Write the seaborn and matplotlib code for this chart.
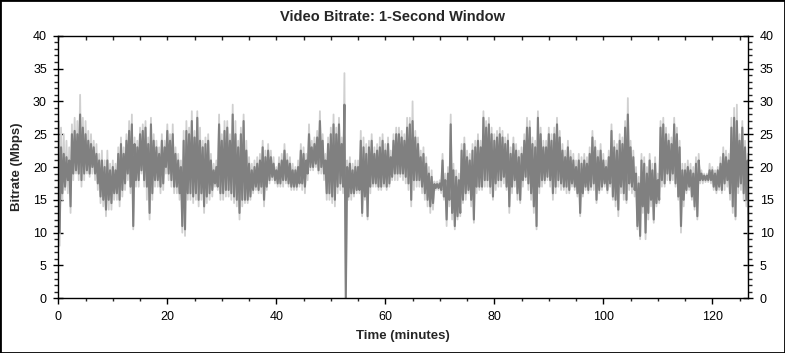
import numpy as np
import pandas as pd
import matplotlib
matplotlib.use("Agg")
import matplotlib.pyplot as plt
import seaborn as sns
from matplotlib.ticker import MultipleLocator
from matplotlib.patches import Rectangle

# ---------------- data (one sample every 0.5 min) ----------------
STEP_MIN = 0.5

# light-grey extremes (1-second spikes)
peak = [
    28.5, 26, 25, 24, 23, 26.5, 27.5, 27, 31, 27.5,
    27, 25.5, 25, 24, 23.5, 22, 22.5, 21, 22.5, 20.5,
    21, 20.5, 23, 24.5, 23, 25, 27, 28, 24.5, 24,
    26, 26.5, 27, 24.5, 27.5, 25, 24, 23, 25, 24,
    26.5, 25, 26.5, 23, 22, 21, 25.5, 27, 26, 28.5,
    25.5, 28.5, 26, 24, 24.5, 25, 22, 20.5, 21, 28,
    25, 27, 27, 25, 29.5, 27, 24, 26, 28, 24,
    21.5, 20.5, 21, 21.5, 22, 24, 22.5, 23.5, 22.5, 21.5,
    20, 21.5, 22, 23.5, 22, 21.5, 20.5, 20, 21, 23.5,
    23, 22, 26.5, 24, 24.5, 25.5, 28.5, 25, 22, 24.5,
    26, 28, 26, 27.5, 24.5, 34.3, 21, 21.5, 20.5, 21,
    21, 25.5, 24.5, 23.5, 24, 25, 23, 23.5, 24.5, 25,
    23.5, 24.5, 22.5, 25, 26, 26, 25.5, 25, 27.5, 27.5,
    30, 25.5, 24.5, 22.5, 23, 21.5, 20, 19.5, 17.8, 17.8,
    18, 22, 19, 20, 28, 20.5, 19.5, 19, 23.5, 24.5,
    22.5, 22, 23.5, 24, 25, 24, 28.5, 27, 27.5, 26,
    25, 25.5, 26, 25.5, 24.5, 25, 23, 24.5, 23.5, 22.5,
    23, 25, 27.5, 27, 24.5, 24, 28.5, 26, 24, 24,
    26, 25, 26, 27.5, 25.5, 23.5, 22.5, 24, 22.5, 22,
    21, 22, 21.5, 22, 21.5, 23, 25.5, 24, 22.5, 23.5,
    22, 21, 22.5, 26.5, 24, 23.5, 25, 24.5, 27, 30.5,
    24, 22.5, 20, 18.5, 22, 21.5, 20, 22, 20.5, 21.5,
    19, 27, 27.5, 26, 25, 24.5, 27.5, 26, 24, 20.5,
    20.5, 21, 20.5, 20, 21.5, 22, 19.5, 19, 19, 20.5,
    20, 19.5, 20, 21.5, 23, 22.5, 22, 27.5, 29, 29.5,
    25, 27, 24, 22,
]

# dark-grey band (bulk of the 1-second values)
upper = [
    27, 23, 22, 21.5, 21, 25, 25.5, 25, 28, 26,
    25, 24, 23.5, 23, 22, 21, 21, 20, 21, 19.5,
    20, 19.5, 22, 23.5, 22, 24, 25.5, 26.5, 23.5, 23,
    25, 25.5, 26, 23.5, 26.5, 24, 23, 22, 24, 23,
    25.5, 24, 25, 22, 21, 20, 24, 25.5, 25, 27,
    24.5, 27.5, 24, 23, 23.5, 24, 21, 19.5, 20, 26.5,
    24, 25.5, 26, 24, 28, 25, 23, 25, 27, 22.5,
    20.5, 19.5, 20, 20.5, 21, 23, 21.5, 22.5, 21.5, 20.5,
    19.5, 20.5, 21, 22.5, 21, 20.5, 19.5, 19.5, 20, 22.5,
    22, 21, 25, 23, 23.5, 24.5, 27, 24, 21, 23.5,
    25, 26.5, 25, 26.5, 23.5, 29.5, 20, 20.5, 19.5, 20,
    20, 24, 23, 22, 23, 24, 22, 22.5, 23, 24,
    22.5, 23.5, 21.5, 24, 25, 25, 24.5, 24, 26, 26.5,
    27, 24.5, 23.5, 21.5, 22, 20.5, 19, 18.5, 17.4, 17.4,
    17.5, 21, 18, 19, 26.5, 19.5, 18.5, 18, 22.5, 23.5,
    21.5, 21, 22.5, 23, 24, 23, 27.5, 26, 26.5, 25,
    24, 24.5, 25, 24.5, 23.5, 24, 22, 23.5, 22.5, 21.5,
    22, 24, 26, 26, 23.5, 23, 27.5, 25, 23, 23,
    25, 24, 25, 26.5, 24.5, 22.5, 21.5, 23, 21.5, 21,
    20, 21, 20.5, 21, 20.5, 22, 24.5, 23, 21.5, 22.5,
    21, 20, 21.5, 25.5, 23, 22.5, 24, 23.5, 26, 28,
    23, 21.5, 19, 17.5, 21, 20.5, 19, 21, 19.5, 20.5,
    18, 26, 26.5, 25, 24, 23.5, 26.5, 25, 23, 19.5,
    19.5, 20, 19.5, 19, 20.5, 21, 19, 18.7, 18.7, 19.5,
    19.5, 19, 19.5, 20.5, 22, 21.5, 21, 26, 27.5, 27,
    24, 26, 23, 21,
]

lower = [
    10, 16, 17, 18, 14, 19, 19.5, 19, 18, 19,
    19.5, 19, 20, 19, 17.5, 15.5, 15, 13.5, 15, 14.5,
    16, 16, 15, 16.5, 17.5, 19, 17, 11, 18, 18,
    19.5, 18, 17, 13, 16, 18, 18, 17, 17.5, 20,
    19, 18, 17, 17, 16, 11, 10.5, 16, 16, 15.5,
    16, 15, 16, 14, 15.5, 16, 16.5, 17.5, 17, 16,
    16, 16.5, 16.5, 16, 15.5, 15, 13, 15, 15, 15,
    15.5, 16.5, 17, 16.5, 17, 15, 17, 18, 18.5, 18,
    17.5, 17.5, 18, 18, 17.5, 17, 17, 17, 17.5, 17.5,
    17, 19, 20, 20, 20.5, 19.5, 20, 19, 16, 16,
    15.5, 15, 17, 17.5, 17, 0, 15.5, 16, 16, 16.5,
    16.5, 13, 15.5, 12.5, 17, 17.5, 17.5, 17, 17, 17.5,
    17, 17.5, 18.5, 19, 19, 19, 19, 18.5, 17.5, 15,
    18, 18, 18, 17, 16, 15, 14, 14.5, 16.8, 16.8,
    16.5, 15.5, 12, 15, 13, 11, 12.5, 13, 15, 16,
    16.5, 15, 12, 17, 17, 17, 18, 18, 17, 15.5,
    17.5, 18, 18, 18.5, 17, 14, 17, 18, 16, 15,
    18, 18.5, 17.5, 16, 14, 11, 17, 18, 18, 18.5,
    18, 16, 17, 18, 17.5, 17, 17, 16.5, 17.5, 17,
    16, 13, 16, 17, 16.5, 17, 17.5, 15, 16.5, 17,
    17.5, 16.5, 17.5, 15.5, 15, 13.5, 17, 16, 15, 17.5,
    17, 16.5, 11, 9.5, 14, 10, 13, 15, 12, 14.5,
    15, 18, 17.5, 19, 18, 19, 17.5, 15.5, 11, 15,
    16.5, 17, 15.5, 14, 12.5, 18, 18, 18, 18, 18,
    17, 16.5, 17, 16.5, 17.5, 18, 16, 14, 12.5, 17,
    17.5, 16, 15, 0,
]

trough = [
    8, 15, 16.5, 16, 13, 18, 19, 18, 17, 18,
    19, 18.5, 19, 18, 16.5, 14.5, 14, 12.5, 13.5, 13.5,
    15, 15, 14, 15.5, 16.5, 18, 16, 10.5, 17, 17,
    19, 17, 15, 12, 15, 17, 17, 16, 16.5, 19,
    18, 17, 16, 16, 15, 10, 9.5, 15, 15, 14.5,
    15, 14, 15, 13, 14.5, 15, 15.5, 17, 16.5, 15,
    15, 15.5, 15.5, 15, 14.5, 14, 12, 14, 14.5, 14.5,
    15, 16, 16.5, 16, 16, 14, 16.5, 17.5, 18, 17.5,
    17, 17, 17, 17.5, 17, 16.5, 16.5, 16.5, 17, 16.5,
    16, 18, 19.5, 19.5, 20, 19, 19, 18, 15, 15,
    14.5, 14, 16, 16.5, 16, 0, 15, 15, 15.5, 16,
    16, 12.5, 15, 12, 16, 17, 17, 16.5, 16.5, 17,
    16.5, 17, 18, 18, 18, 18.5, 18, 17.5, 16.5, 14,
    16.5, 17, 17, 16, 15, 14, 13, 13.5, 16.5, 16.5,
    16, 15, 11, 14, 12, 10.5, 12, 12.5, 14.5, 15,
    16, 14, 11.5, 16, 16.5, 16.5, 17, 17, 16, 15,
    16.5, 17, 17, 17.5, 16.5, 13, 16, 17, 15, 14.5,
    17, 18, 16.5, 15, 13, 10.5, 16, 17, 17.5, 18,
    17, 15, 16, 17, 16.5, 16.5, 16, 16, 17, 16.5,
    15.5, 12.5, 15.5, 16.5, 16, 16.5, 16.5, 14.5, 16, 16.5,
    17, 16, 17, 15, 14, 12.5, 16, 15, 14.5, 16.5,
    16, 15.5, 10.5, 9, 13, 9, 12, 14, 11.5, 14,
    14.5, 17, 17, 18, 17.5, 18, 17, 15, 10, 14,
    16, 16.5, 15, 13.5, 12, 17.5, 17.5, 17.7, 17.7, 17.5,
    16.5, 16, 16.5, 16, 16.5, 17, 15, 13, 12, 16,
    16.5, 15, 14, 0,
]

title = "Video Bitrate: 1-Second Window"
x_label = "Time (minutes)"
y_label = "Bitrate (Mbps)"
x_ticks = [0, 20, 40, 60, 80, 100, 120]
y_ticks = [0, 5, 10, 15, 20, 25, 30, 35, 40]
x_max = 126.6


def zigzag(top, bottom):
    """Interleave band edges so a single line sweeps the band like raw 1-s data."""
    n = len(top)
    t = np.arange(n) * STEP_MIN
    xs = np.empty(2 * n)
    ys = np.empty(2 * n)
    xs[0::2] = t
    xs[1::2] = t + STEP_MIN / 2
    ys[0::2] = top
    ys[1::2] = bottom
    return pd.DataFrame({"minutes": xs, "mbps": ys})


sns.set_style("white")
plt.rcParams["font.family"] = ["Liberation Sans", "DejaVu Sans"]

W, H = 785, 353
fig = plt.figure(figsize=(W / 100, H / 100), dpi=100)
L, R, T, B = 58.3, 748.3, 35.7, 298.3
ax = fig.add_axes([L / W, 1 - B / H, (R - L) / W, (B - T) / H])

sns.lineplot(data=zigzag(peak, trough), x="minutes", y="mbps", sort=False,
             estimator=None, color="#d0d0d0", lw=1.3, ax=ax)
sns.lineplot(data=zigzag(upper, lower), x="minutes", y="mbps", sort=False,
             estimator=None, color="#808080", lw=1.5, ax=ax)

ax.set_xlim(0, x_max)
ax.set_ylim(0, 40)
ax.set_xticks(x_ticks)
ax.set_yticks(y_ticks)
ax.xaxis.set_minor_locator(MultipleLocator(5))
ax.yaxis.set_minor_locator(MultipleLocator(1))
ax.set_xlabel("")
ax.set_ylabel("")

for s in ax.spines.values():
    s.set_color("black")
    s.set_linewidth(1.0)

ax.tick_params(axis="x", which="major", direction="out", length=4, width=1,
               labelsize=9, pad=5, colors="black", bottom=True, top=False)
ax.tick_params(axis="x", which="minor", direction="out", length=2.5, width=1,
               bottom=True, top=False)
ax.tick_params(axis="y", which="major", direction="inout", length=7.5, width=1,
               labelsize=9, pad=4.5, left=True, right=True,
               labelleft=True, labelright=True, colors="black")
ax.tick_params(axis="y", which="minor", direction="out", length=3, width=1,
               left=True, right=True)

# inward ticks on the top edge
top = ax.secondary_xaxis("top")
top.set_xticks(x_ticks)
top.xaxis.set_minor_locator(MultipleLocator(5))
top.tick_params(which="both", direction="in", length=3, width=1, labeltop=False)
top.spines["top"].set_visible(False)

fig.text(0.5, 1 - 17 / H, title, ha="center", va="center",
         fontsize=10.5, fontweight="bold")
fig.text((L + R) / 2 / W, 1 - 336 / H, x_label, ha="center", va="center",
         fontsize=9.5, fontweight="bold")
fig.text(17 / W, 1 - (T + B) / 2 / H, y_label, ha="center", va="center",
         rotation=90, fontsize=9.5, fontweight="bold")

fig.add_artist(Rectangle((0, 0), 1, 1, transform=fig.transFigure, fill=False,
                         ec="black", lw=2))

fig.savefig("out.png", dpi=100)
